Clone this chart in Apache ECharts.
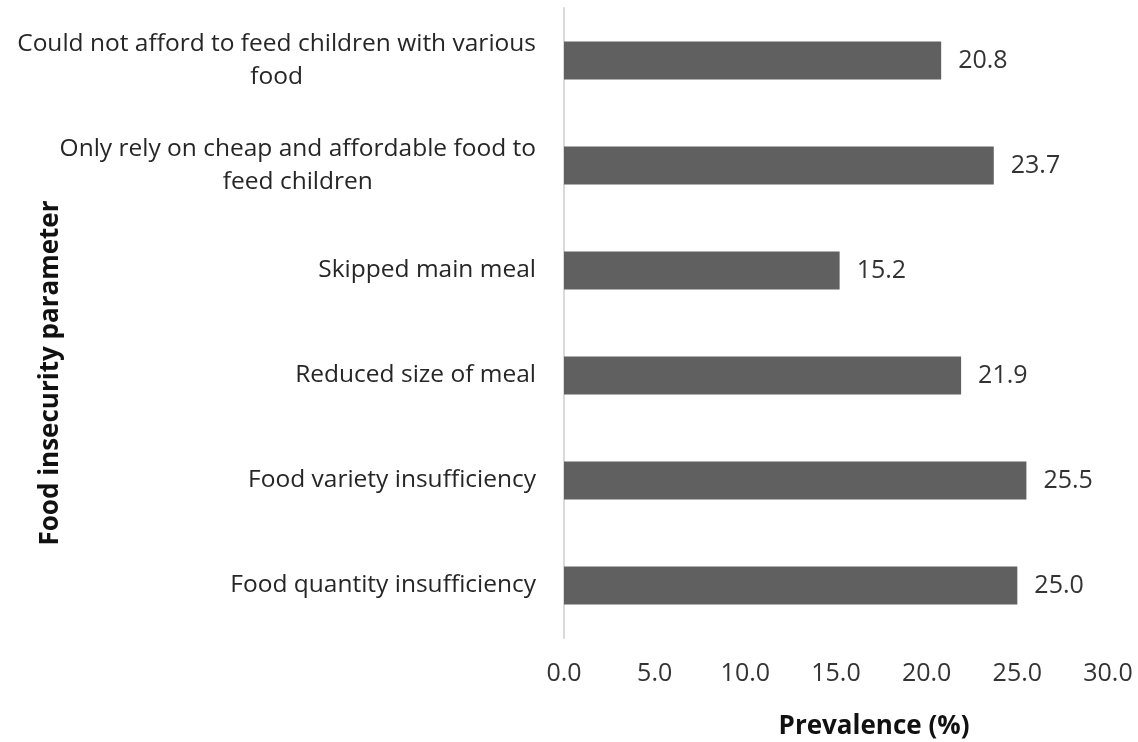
<!DOCTYPE html>
<html><head><meta charset="utf-8">
<script src="https://cdn.jsdelivr.net/npm/echarts@6/dist/echarts.min.js"></script>
<style>html,body{margin:0;padding:0;background:#fff}#c{width:1138px;height:742px}</style>
</head><body><div id="c"></div>
<script>
const categories = [
  "Food quantity insufficiency",
  "Food variety insufficiency",
  "Reduced size of meal",
  "Skipped main meal",
  "Only rely on cheap and affordable food to\nfeed children",
  "Could not afford to feed children with various\nfood"
];
const values = [25.0, 25.5, 21.9, 15.2, 23.7, 20.8];
const xTicks = [0, 5, 10, 15, 20, 25, 30];

const FONT = "Open Sans";
const chart = echarts.init(document.getElementById('c'));
chart.setOption({
  animation: false,
  grid: {left: 564, right: 30, top: 8, bottom: 104, containLabel: false, outerBoundsMode: 'none'},
  xAxis: {
    type: 'value', min: xTicks[0], max: xTicks[xTicks.length-1], interval: 5,
    axisLine: {show: false}, axisTick: {show: false}, splitLine: {show: false},
    axisLabel: {formatter: v => v.toFixed(1), fontFamily: FONT, fontSize: 25, color: '#333', margin: 23},
    name: 'Prevalence (%)', nameLocation: 'middle', nameGap: 76, nameMoveOverlap: false,
    nameTextStyle: {fontFamily: FONT, fontSize: 26, fontWeight: 'bold', color: '#111', padding: [0, 0, 0, 76]}
  },
  yAxis: {
    type: 'category', data: categories,
    axisLine: {show: true, lineStyle: {color: '#d9d9d9', width: 2}},
    axisTick: {show: false},
    axisLabel: {
      fontFamily: FONT, fontSize: 24.5, color: '#262626', margin: 28, align: 'right',
      formatter: v => v.split('\n').map(s => '{a|' + s + '}').join('\n'),
      rich: {a: {align: 'center', fontFamily: FONT, fontSize: 24.5, color: '#262626', lineHeight: 33}}
    },
    name: 'Food insecurity parameter', nameLocation: 'middle', nameGap: 500, nameRotate: 90, nameMoveOverlap: false,
    nameTextStyle: {fontFamily: FONT, fontSize: 26, fontWeight: 'bold', color: '#111', padding: [0, 0, 0, -100]}
  },
  series: [{
    type: 'bar', data: values, barWidth: '36%',
    itemStyle: {color: '#606060'},
    label: {show: true, position: 'right', distance: 17, formatter: p => p.value.toFixed(1),
      fontFamily: FONT, fontSize: 25, color: '#333'}
  }]
});
</script></body></html>
